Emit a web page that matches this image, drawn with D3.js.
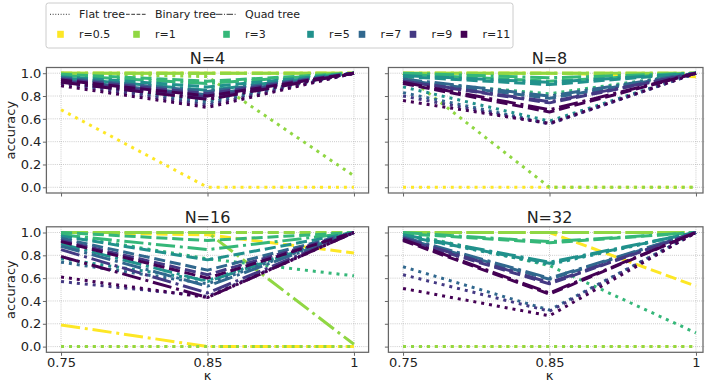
<!DOCTYPE html>
<html>
<head>
<meta charset="utf-8">
<script src="https://cdn.jsdelivr.net/npm/d3@7"></script>
<style>
  body { margin: 0; background: #fff; }
  svg { display: block; font-family: "DejaVu Sans", sans-serif; }
</style>
</head>
<body>
<script>
// x categories (kappa), r values, panel sizes, tree types
var kappa = ["0.75", "0.85", "1"];
var rValues = ["0.5", "1", "3", "5", "7", "9", "11"];
var nValues = [4, 8, 16, 32];
var treeNames = ["Flat tree", "Binary tree", "Quad tree"];
var yTicks = [0, 0.2, 0.4, 0.6, 0.8, 1.0];

// accuracy[panel][r] = values at kappa 0.75, 0.85, 1
var flatTree = [
    [[0.68, 0, 0], [1, 0.97, 0.1], [0.96, 0.85, 1], [0.93, 0.76, 1], [0.92, 0.74, 1], [0.91, 0.72, 1], [0.89, 0.70, 1]],
    [[0, 0, 0], [1, 0, 0], [0.93, 0.82, 1], [0.88, 0.58, 1], [0.83, 0.56, 1], [0.80, 0.555, 1], [0.76, 0.56, 1]],
    [[0, 0, 0], [0, 0, 0], [0.98, 0.77, 0.62], [0.77, 0.58, 1], [0.74, 0.55, 1], [0.57, 0.44, 1], [0.61, 0.43, 1]],
    [[0, 0, 0], [0, 0, 0], [1, 0.71, 0.12], [0.97, 0.72, 1], [0.70, 0.32, 1], [0.63, 0.31, 1], [0.51, 0.27, 1]]
];
var binaryTree = [
    [[1, 1, 1], [1, 1, 1], [0.99, 0.93, 1], [0.97, 0.88, 1], [0.96, 0.84, 1], [0.95, 0.82, 1], [0.94, 0.80, 1]],
    [[1, 1, 0.97], [1, 1, 1], [0.99, 0.93, 1], [0.97, 0.90, 1], [0.94, 0.78, 1], [0.93, 0.74, 1], [0.91, 0.66, 1]],
    [[1, 0.98, 0.82], [1, 1, 1], [1, 0.93, 1], [0.97, 0.76, 1], [0.95, 0.67, 1], [0.93, 0.63, 1], [0.92, 0.60, 1]],
    [[1, 1, 0.53], [1, 1, 1], [0.99, 0.91, 1], [0.97, 0.73, 1], [0.95, 0.59, 1], [0.94, 0.55, 1], [0.93, 0.46, 1]]
];
var quadTree = [
    [[1, 1, 1], [1, 1, 1], [0.98, 0.91, 1], [0.96, 0.85, 1], [0.94, 0.81, 1], [0.93, 0.79, 1], [0.92, 0.77, 1]],
    [[1, 1, 1], [1, 1, 1], [1, 0.96, 1], [0.98, 0.92, 1], [0.95, 0.80, 1], [0.93, 0.75, 1], [0.92, 0.68, 1]],
    [[0.19, 0, 0], [1, 1, 0.02], [0.98, 0.85, 1], [0.90, 0.57, 1], [0.88, 0.53, 1], [0.85, 0.47, 1], [0.79, 0.43, 1]],
    [[1, 1, 1], [1, 1, 1], [1, 0.92, 1], [0.98, 0.74, 1], [0.96, 0.60, 1], [0.95, 0.56, 1], [0.94, 0.47, 1]]
];
var trees = [flatTree, binaryTree, quadTree];

var width = 705,
    height = 383;

var svg = d3.select("body")
    .append("svg")
    .attr("width", width)
    .attr("height", height);

// matplotlib-like dash patterns (scaled by line width)
var treeDash = [[1, 1.65], [3.7, 1.6], [6.4, 1.6, 1, 1.6]];
function dash(i, w) { return treeDash[i].map(function(d) { return d * w; }).join(","); }

// viridis, r=0.5 yellow ... r=11 dark purple
var color = d3.scaleOrdinal()
    .domain(rValues)
    .range(rValues.map(function(d, i) { return d3.interpolateViridis(1 - i / (rValues.length - 1)); }));

var panelW = 322.2,
    panelH = 125.5,
    lefts = [46.4, 388.4],
    tops = [67.5, 226.8],
    textColor = "#222",
    frameColor = "#666";

nValues.forEach(function(n, p) {
    var col = p % 2, row = Math.floor(p / 2);
    var x0 = lefts[col], y0 = tops[row];

    var x = d3.scalePoint().domain(kappa).range([x0, x0 + panelW]).padding(0.1);
    var y = d3.scaleLinear().domain([-0.05, 1.05]).range([y0 + panelH, y0]);

    var g = svg.append("g");

    // grid
    g.append("g").selectAll("line").data(yTicks).join("line")
        .attr("x1", x0).attr("x2", x0 + panelW)
        .attr("y1", function(d) { return y(d); }).attr("y2", function(d) { return y(d); })
        .attr("stroke", "#b0b0b0").attr("stroke-width", 0.8).attr("stroke-dasharray", "0.8,1.3");
    g.append("g").selectAll("line").data(kappa).join("line")
        .attr("y1", y0).attr("y2", y0 + panelH)
        .attr("x1", function(d) { return x(d); }).attr("x2", function(d) { return x(d); })
        .attr("stroke", "#b0b0b0").attr("stroke-width", 0.8).attr("stroke-dasharray", "0.8,1.3");

    // lines
    var line = d3.line()
        .x(function(d, i) { return x(kappa[i]); })
        .y(function(d) { return y(d); });

    rValues.forEach(function(r, ri) {
        trees.forEach(function(tree, ti) {
            g.append("path")
                .attr("d", line(tree[p][ri]))
                .attr("fill", "none")
                .attr("stroke", color(r))
                .attr("stroke-width", 3)
                .attr("stroke-linejoin", "round")
                .attr("stroke-dasharray", dash(ti, 3));
        });
    });

    // frame (right column is trimmed at the picture edge)
    g.append("rect")
        .attr("x", x0).attr("y", y0)
        .attr("width", Math.min(panelW, width - 2 - x0)).attr("height", panelH)
        .attr("fill", "none").attr("stroke", frameColor).attr("stroke-width", 1.25);

    // axes
    var yAxis = d3.axisLeft(y).tickValues(yTicks).tickSize(3.5).tickPadding(1.5)
        .tickFormat(col === 0 ? d3.format(".1f") : "");
    var ya = g.append("g").attr("transform", "translate(" + x0 + ",0)").call(yAxis);
    var xAxis = d3.axisBottom(x).tickSize(3.5).tickPadding(1.5)
        .tickFormat(row === 1 ? function(d) { return d; } : "");
    var xa = g.append("g").attr("transform", "translate(0," + (y0 + panelH) + ")").call(xAxis);
    [ya, xa].forEach(function(a) {
        a.select(".domain").remove();
        a.selectAll(".tick line").attr("stroke", frameColor).attr("stroke-width", 1);
        a.selectAll(".tick text").attr("fill", textColor).attr("font-size", 13)
            .attr("font-family", "DejaVu Sans, sans-serif");
    });

    // title
    g.append("text")
        .attr("x", x0 + panelW / 2).attr("y", y0 - 3.5)
        .attr("text-anchor", "middle").attr("font-size", 16).attr("fill", textColor)
        .text("N=" + n);

    if (col === 0) {
        g.append("text")
            .attr("transform", "translate(15," + (y0 + panelH / 2) + ") rotate(-90)")
            .attr("text-anchor", "middle").attr("font-size", 13).attr("fill", textColor)
            .text("accuracy");
    }
    if (row === 1) {
        g.append("text")
            .attr("x", x0 + panelW / 2).attr("y", 380)
            .attr("text-anchor", "middle").attr("font-size", 13).attr("fill", textColor)
            .text("κ");
    }
});

// legend: 7 columns, tree styles on the first row, r colours on the second
var fs = 11,
    handleLen = 21;
var legend = svg.append("g");
legend.append("rect")
    .attr("x", 46).attr("y", 3)
    .attr("width", 467).attr("height", 45)
    .attr("rx", 2.5)
    .attr("fill", "#fff").attr("fill-opacity", 0.8)
    .attr("stroke", "#ccc").attr("stroke-width", 1);

var colStart = [50, 126, 216, 300, 351.5, 402.5, 453.5];
var row1 = 14.3, row2 = 34.3;
rValues.forEach(function(r, j) {
    var hx = colStart[j], tx = hx + handleLen + 8;
    if (j < treeNames.length) {
        legend.append("line")
            .attr("x1", hx).attr("x2", hx + handleLen)
            .attr("y1", row1).attr("y2", row1)
            .attr("stroke", "#333").attr("stroke-width", 1)
            .attr("stroke-dasharray", dash(j, 1));
        legend.append("text")
            .attr("x", tx).attr("y", row1).attr("dy", "0.35em")
            .attr("font-size", fs).attr("fill", textColor)
            .text(treeNames[j]);
    }
    legend.append("rect")
        .attr("x", hx + handleLen / 2 - 3.3).attr("y", row2 - 3.5)
        .attr("width", 6.6).attr("height", 7)
        .attr("fill", color(r));
    legend.append("text")
        .attr("x", tx).attr("y", row2).attr("dy", "0.35em")
        .attr("font-size", fs).attr("fill", textColor)
        .text("r=" + r);
});
</script>
</body>
</html>
